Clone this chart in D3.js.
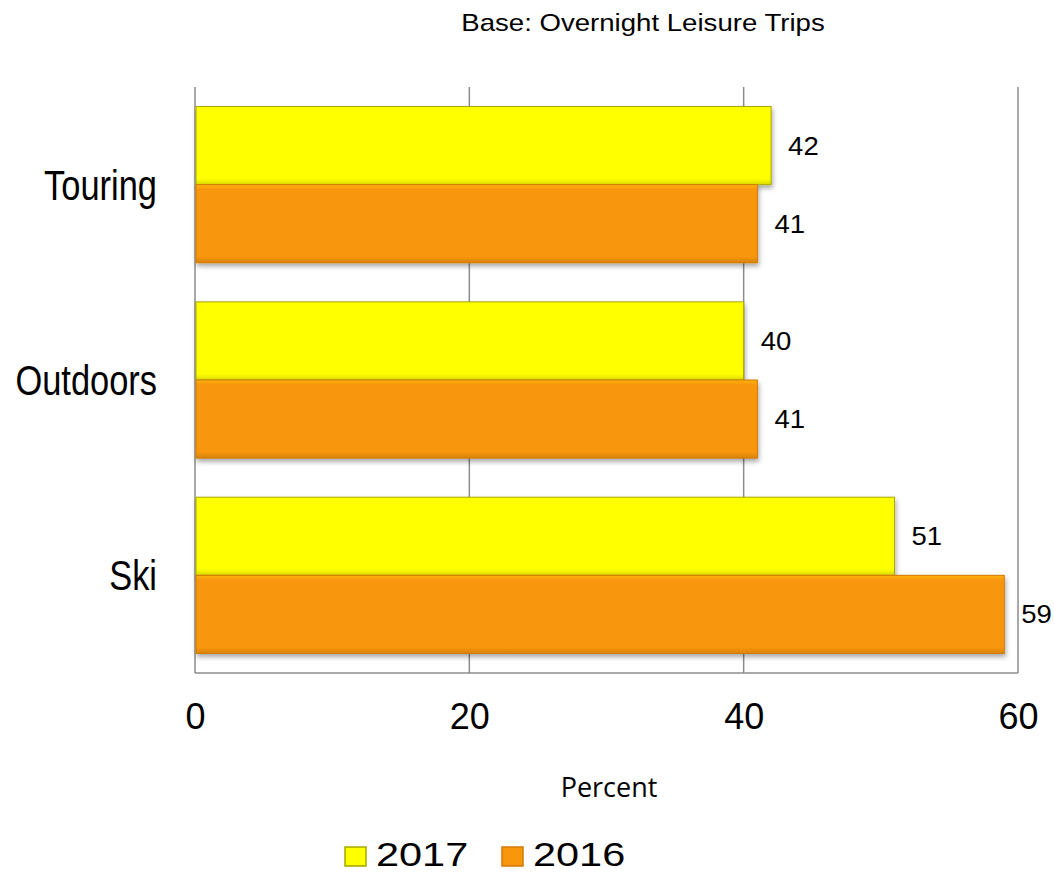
<!DOCTYPE html>
<html><head><meta charset="utf-8">
<script src="https://cdn.jsdelivr.net/npm/d3@7"></script>
<style>html,body{margin:0;padding:0;background:#fff;}svg{display:block;}</style>
</head><body>
<script>
const categories = ["Touring", "Outdoors", "Ski"];
const seriesNames = ["2017", "2016"];
const values2017 = [42, 40, 51];
const values2016 = [41, 41, 59];
const tickValues = [0, 20, 40, 60];
const titleText = "Base: Overnight Leisure Trips";
const axisTitle = "Percent";

const W = 1054, H = 872;
const m = {left: 195, right: 1018, top: 87, bottom: 673};
const colors = {"2017": "#FFFF00", "2016": "#F8960C"};
const strokes = {"2017": "#A8A800", "2016": "#D27A00"};
const SANS = "Liberation Sans, Arial, sans-serif";

const svg = d3.select("body").append("svg").attr("width", W).attr("height", H);
const defs = svg.append("defs");
const f = defs.append("filter").attr("id", "sh").attr("x", "-5%").attr("y", "-20%").attr("width", "115%").attr("height", "150%");
f.append("feDropShadow").attr("dx", 1).attr("dy", 3).attr("stdDeviation", 2.5).attr("flood-color", "#000").attr("flood-opacity", 0.35);
seriesNames.forEach(s => {
  const base = d3.color(colors[s]);
  const g = defs.append("linearGradient").attr("id", "g" + s).attr("x1", 0).attr("y1", 0).attr("x2", 0).attr("y2", 1);
  g.append("stop").attr("offset", "0%").attr("stop-color", base.brighter(0.5));
  g.append("stop").attr("offset", "6%").attr("stop-color", base);
  g.append("stop").attr("offset", "92%").attr("stop-color", base);
  g.append("stop").attr("offset", "100%").attr("stop-color", base.darker(0.4));
});

const x = d3.scaleLinear().domain([0, 60]).range([m.left, m.right]);
const y = d3.scaleBand().domain(categories).range([m.top, m.bottom]).paddingInner(0.2).paddingOuter(0.1);
const ys = d3.scaleBand().domain(seriesNames).range([0, y.bandwidth()]);

// helper: text stretched horizontally
function stretchedText(sel, tx, ty, sx, size, family, anchor, str) {
  return sel.append("text").attr("transform", `translate(${tx},${ty}) scale(${sx},1)`)
    .attr("font-family", family).attr("font-size", size).attr("text-anchor", anchor)
    .attr("fill", "#000").text(str);
}

// gridlines
svg.append("g").selectAll("line").data(tickValues).join("line")
  .attr("x1", d => x(d)).attr("x2", d => x(d)).attr("y1", m.top).attr("y2", m.bottom)
  .attr("stroke", "#8c8c8c").attr("stroke-width", 1.5);
svg.append("line").attr("x1", m.left).attr("x2", m.right).attr("y1", m.bottom).attr("y2", m.bottom)
  .attr("stroke", "#8c8c8c").attr("stroke-width", 1.5);

// x tick labels
const xAxis = d3.axisBottom(x).tickValues(tickValues).tickSize(0).tickPadding(0);
const xa = svg.append("g").attr("transform", `translate(0,${m.bottom})`).call(xAxis);
xa.select(".domain").remove();
xa.selectAll("text").attr("y", 56).attr("dy", 0).attr("font-family", SANS)
  .attr("font-size", 36).attr("fill", "#000");

// y category labels (condensed)
const ya = svg.append("g").attr("transform", `translate(${m.left},0)`).call(d3.axisLeft(y).tickSize(0).tickPadding(0));
ya.select(".domain").remove();
ya.selectAll("text").attr("x", 0).attr("dy", 0)
  .attr("transform", "translate(-38,15) scale(0.82,1)")
  .attr("font-family", SANS).attr("font-size", 42).attr("fill", "#000");

const rows = [];
categories.forEach((c, i) => {
  rows.push({cat: c, s: "2017", v: values2017[i]});
  rows.push({cat: c, s: "2016", v: values2016[i]});
});

const bars = svg.append("g");
bars.selectAll("rect").data(rows).join("rect")
  .attr("x", x(0) + 1).attr("y", d => y(d.cat) + ys(d.s))
  .attr("width", d => x(d.v) - x(0) - 1).attr("height", ys.bandwidth())
  .attr("fill", d => `url(#g${d.s})`).attr("stroke", d => strokes[d.s]).attr("stroke-width", 1)
  .attr("filter", "url(#sh)");

const lab = svg.append("g");
rows.forEach(d => {
  stretchedText(lab, x(d.v) + 17, y(d.cat) + ys(d.s) + ys.bandwidth() / 2 + 9, 1.1, 25, SANS, "start", d.v);
});

// title
stretchedText(svg, 643, 31, 1.15, 24, SANS, "middle", titleText);

// axis title
svg.append("text").attr("x", 609).attr("y", 797).attr("text-anchor", "middle")
  .attr("font-family", "Open Sans, sans-serif").attr("font-size", 27).text(axisTitle);

// legend
const leg = svg.append("g");
const legX = [345, 502];
seriesNames.forEach((s, i) => {
  leg.append("rect").attr("x", legX[i]).attr("y", 847).attr("width", 21).attr("height", 19)
    .attr("fill", `url(#g${s})`).attr("stroke", strokes[s]).attr("stroke-width", 1.5);
  stretchedText(leg, legX[i] + 31, 866, 1.22, 34, SANS, "start", s);
});
</script>
</body></html>
